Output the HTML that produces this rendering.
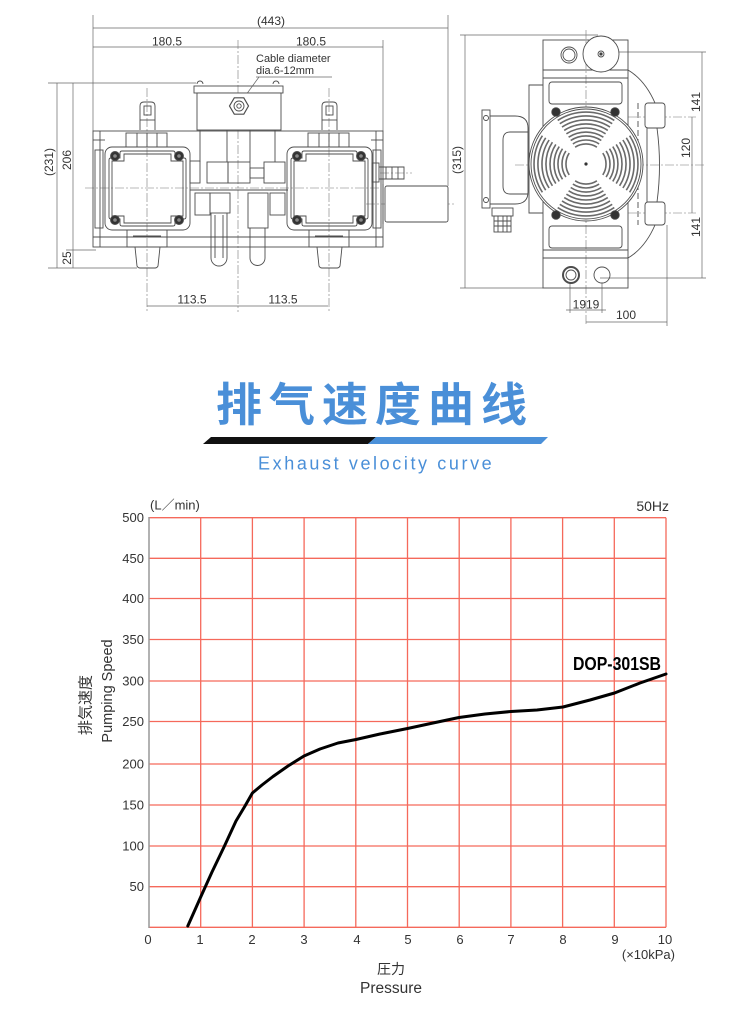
<!DOCTYPE html>
<html>
<head>
<meta charset="utf-8">
<style>
html,body{margin:0;padding:0;background:#fff;}
svg{display:block;}
text{font-family:"Liberation Sans","Noto Sans CJK SC",sans-serif;}
</style>
</head>
<body>
<svg width="750" height="1024" viewBox="0 0 750 1024" xmlns="http://www.w3.org/2000/svg">
<rect width="750" height="1024" fill="#fff"/>

<!-- ================= LEFT VIEW ================= -->
<defs>
<g id="head" fill="none" stroke="#4d4d4d" stroke-width="0.9">
  <rect x="105" y="147" width="85" height="83" rx="7"/>
  <path d="M122,151 H173 Q175,151 175,153 V158 H184 Q186,158 186,160 V217 Q186,219 184,219 H175 V224 Q175,226 173,226 H122 Q120,226 120,224 V219 H111 Q109,219 109,217 V160 Q109,158 111,158 H120 V153 Q120,151 122,151 Z"/>
  <path d="M124,154 H171 V161 H183 V216 H171 V223 H124 V216 H112 V161 H124 Z"/>
  <rect x="126" y="133" width="41" height="14"/>
  <path d="M137,133 V147 M147,133 V147 M157,133 V147"/>
  <path d="M140,130 V106 Q140,102 144,102 H151 Q155,102 155,106 V130"/>
  <rect x="144" y="106" width="7" height="9"/>
  <line x1="140" y1="120" x2="155" y2="120"/>
  <rect x="127" y="230" width="40" height="17"/>
  <path d="M133,236 H161"/>
  <path d="M135,247 L137,266 Q138,268 140,268 H155 Q157,268 158,266 L160,247"/>
  <circle cx="115" cy="156" r="4.5" fill="#333"/>
  <circle cx="179" cy="156" r="4.5" fill="#333"/>
  <circle cx="115" cy="220" r="4.5" fill="#333"/>
  <circle cx="179" cy="220" r="4.5" fill="#333"/>
  <circle cx="115" cy="156" r="1.8" fill="#888" stroke="none"/>
  <circle cx="179" cy="156" r="1.8" fill="#888" stroke="none"/>
  <circle cx="115" cy="220" r="1.8" fill="#888" stroke="none"/>
  <circle cx="179" cy="220" r="1.8" fill="#888" stroke="none"/>
</g>
<g id="sec" fill="none" stroke="#6a6a6a" stroke-width="1.6">
  <path d="M575.1,147.2 A20,20 0 0 1 596.9,147.2"/>
  <path d="M572.9,143.9 A24,24 0 0 1 599.1,143.9"/>
  <path d="M570.7,140.5 A28,28 0 0 1 601.3,140.5"/>
  <path d="M568.6,137.2 A32,32 0 0 1 603.4,137.2"/>
  <path d="M566.4,133.8 A36,36 0 0 1 605.6,133.8"/>
  <path d="M564.2,130.4 A40,40 0 0 1 607.8,130.4"/>
  <path d="M562,127.1 A44,44 0 0 1 610,127.1"/>
  <path d="M559.8,123.7 A48,48 0 0 1 612.2,123.7"/>
  <path d="M557.7,120.4 A52,52 0 0 1 614.3,120.4"/>
</g>
</defs>

<!-- dimension lines left view -->
<g stroke="#666" stroke-width="0.7" fill="none">
  <line x1="93" y1="15" x2="93" y2="131"/>
  <line x1="448" y1="15" x2="448" y2="186"/>
  <line x1="93" y1="28" x2="448" y2="28"/>
  <line x1="93" y1="47" x2="383" y2="47"/>
  <line x1="383" y1="40" x2="383" y2="131"/>
  <line x1="57" y1="83" x2="57" y2="268"/>
  <line x1="73" y1="83" x2="73" y2="268"/>
  <line x1="48" y1="83" x2="196" y2="83"/>
  <line x1="66" y1="250" x2="96" y2="250"/>
  <line x1="48" y1="268" x2="137" y2="268"/>
  <line x1="147" y1="306" x2="328" y2="306"/>
  <line x1="256" y1="77" x2="332" y2="77"/>
  <line x1="259" y1="77" x2="243" y2="99"/>
</g>
<!-- centerlines -->
<g stroke="#777" stroke-width="0.6" fill="none" stroke-dasharray="9,2,2,2">
  <line x1="238" y1="40" x2="238" y2="312"/>
  <line x1="147" y1="88" x2="147" y2="312"/>
  <line x1="329" y1="88" x2="329" y2="312"/>
  <line x1="85" y1="188" x2="380" y2="188"/>
  <line x1="366" y1="204" x2="455" y2="204"/>
  <line x1="380" y1="173" x2="412" y2="173"/>
</g>

<g fill="none" stroke="#4d4d4d" stroke-width="0.9">
  <!-- body -->
  <rect x="93" y="131" width="290" height="116"/>
  <line x1="100" y1="131" x2="100" y2="247"/>
  <line x1="376" y1="131" x2="376" y2="247"/>
  <line x1="93" y1="237" x2="383" y2="237"/>
  <line x1="93" y1="140" x2="105" y2="140"/>
  <line x1="371" y1="140" x2="383" y2="140"/>
  <rect x="95" y="150" width="8" height="78"/>
  <rect x="373" y="150" width="8" height="78"/>
  <!-- junction box -->
  <rect x="194" y="86" width="89" height="7"/>
  <path d="M197,84 a3,3 0 0 1 6,0 M273,84 a3,3 0 0 1 6,0"/>
  <rect x="197" y="93" width="84" height="37" fill="#fff"/>
  <polygon points="248.5,106 243.8,114.2 234.3,114.2 229.5,106 234.3,97.8 243.8,97.8" stroke-width="1.2"/>
  <circle cx="239" cy="106" r="5"/>
  <circle cx="239" cy="106" r="2.2"/>
  <path d="M200,130 V162 M227,130 V162 M250,130 V162 M275,130 V162"/>
  <!-- piping -->
  <rect x="190" y="161" width="10" height="22"/>
  <rect x="207" y="162" width="21" height="21"/>
  <rect x="228" y="162" width="22" height="21"/>
  <rect x="250" y="168" width="14" height="10"/>
  <rect x="264" y="162" width="21" height="21"/>
  <line x1="190" y1="190" x2="288" y2="190"/>
  <rect x="195" y="193" width="15" height="22"/>
  <rect x="210" y="193" width="20" height="20"/>
  <rect x="248" y="193" width="20" height="35"/>
  <rect x="270" y="193" width="15" height="22"/>
  <path d="M211,213 V258 a8,8 0 0 0 16,0 V213"/>
  <path d="M215,215 V258 M223,215 V258"/>
  <path d="M250,228 V258 a7.5,7.5 0 0 0 15,0 V228"/>
  <!-- motor + barb -->
  <rect x="385" y="186" width="63" height="36" rx="2" fill="#fff"/>
  <line x1="383" y1="184" x2="383" y2="224"/>
  <rect x="372" y="163" width="7" height="19"/>
  <path d="M379,167 H404 V179 H379 M386,167 V179 M392,167 V179 M398,167 V179"/>
</g>
<use href="#head"/>
<use href="#head" transform="translate(182,0)"/>

<g font-size="12" fill="#333">
  <text x="271" y="25" text-anchor="middle">(443)</text>
  <text x="167" y="45.5" text-anchor="middle">180.5</text>
  <text x="311" y="45.5" text-anchor="middle">180.5</text>
  <text x="256" y="62" font-size="11">Cable diameter</text>
  <text x="256" y="74" font-size="11">dia.6-12mm</text>
  <text x="192" y="303.5" text-anchor="middle">113.5</text>
  <text x="283" y="303.5" text-anchor="middle">113.5</text>
  <text transform="rotate(-90 49 162)" x="49" y="162" text-anchor="middle" dominant-baseline="central">(231)</text>
  <text transform="rotate(-90 67 160)" x="67" y="160" text-anchor="middle" dominant-baseline="central">206</text>
  <text transform="rotate(-90 67 258)" x="67" y="258" text-anchor="middle" dominant-baseline="central">25</text>
</g>

<!-- ================= RIGHT VIEW ================= -->
<g stroke="#666" stroke-width="0.7" fill="none">
  <line x1="465" y1="35" x2="465" y2="288"/>
  <line x1="460" y1="35" x2="598" y2="35"/>
  <line x1="460" y1="288" x2="543" y2="288"/>
  <line x1="702" y1="52" x2="702" y2="278"/>
  <line x1="600" y1="52" x2="706" y2="52"/>
  <line x1="600" y1="278" x2="706" y2="278"/>
  <line x1="692" y1="117" x2="692" y2="213"/>
  <line x1="570" y1="283" x2="570" y2="313"/>
  <line x1="602" y1="283" x2="602" y2="313"/>
  <line x1="566" y1="310" x2="606" y2="310"/>
  <line x1="667" y1="225" x2="667" y2="326"/>
  <line x1="586" y1="322" x2="667" y2="322"/>
</g>
<g stroke="#777" stroke-width="0.6" fill="none" stroke-dasharray="9,2,2,2">
  <line x1="586" y1="30" x2="586" y2="326"/>
  <line x1="515" y1="165" x2="706" y2="165"/>
  <line x1="628" y1="117" x2="696" y2="117"/>
  <line x1="628" y1="213" x2="696" y2="213"/>
</g>
<g fill="none" stroke="#4d4d4d" stroke-width="0.9">
  <rect x="543" y="40" width="85" height="30"/>
  <circle cx="569" cy="55" r="8"/>
  <circle cx="569" cy="55" r="6"/>
  <path d="M543,70 H628 V258 H543 Z"/>
  <path d="M543,78 H628 M543,250 H628"/>
  <rect x="549" y="82" width="73" height="22" rx="3"/>
  <rect x="549" y="226" width="73" height="22" rx="3"/>
  <path d="M543,85 H529 V213 H543"/>
  <!-- right side -->
  <path d="M628,70 Q645,80 655,103"/>
  <path d="M628,258 Q645,248 655,225"/>
  <path d="M647,103 V225"/>
  <path d="M657,128 Q662,165 657,202"/>
  <rect x="645" y="103" width="20" height="25" rx="3" fill="#fff"/>
  <rect x="645" y="202" width="20" height="23" rx="3" fill="#fff"/>
  <line x1="638" y1="103" x2="638" y2="225" stroke-dasharray="6,3"/>
  <!-- fan guard -->
  <circle cx="586" cy="164" r="57" fill="#fff"/>
  <circle cx="586" cy="164" r="55"/>
  <!-- capacitor -->
  <circle cx="601" cy="54" r="18" fill="#fff"/>
  <circle cx="601" cy="54" r="3"/>
  <circle cx="601" cy="54" r="1.2" fill="#333"/>
  <!-- bottom block -->
  <rect x="543" y="258" width="85" height="30"/>
  <circle cx="571" cy="275" r="8" stroke-width="2"/>
  <circle cx="571" cy="275" r="5"/>
  <circle cx="602" cy="275" r="8"/>
  <!-- terminal box -->
  <rect x="482" y="110" width="8" height="98"/>
  <circle cx="486" cy="118" r="2.5"/>
  <circle cx="486" cy="200" r="2.5"/>
  <path d="M490,116 H515 Q528,116 528,128 V192 Q528,204 515,204 H490"/>
  <path d="M528,132 H510 Q503,132 503,140 V186 Q503,194 510,194 H528"/>
  <rect x="492" y="208" width="21" height="8"/>
  <rect x="494" y="216" width="17" height="16"/>
  <path d="M494,221 H511 M494,226 H511 M498,216 V232 M503,216 V232 M507,216 V232"/>
</g>
<use href="#sec"/>
<use href="#sec" transform="rotate(90 586 164)"/>
<use href="#sec" transform="rotate(180 586 164)"/>
<use href="#sec" transform="rotate(270 586 164)"/>
<circle cx="586" cy="164" r="1.6" fill="#333"/>
<g fill="#333" stroke="#4d4d4d" stroke-width="0.8">
  <circle cx="556" cy="112" r="4.3"/>
  <circle cx="615" cy="112" r="4.3"/>
  <circle cx="556" cy="215" r="4.3"/>
  <circle cx="615" cy="215" r="4.3"/>
</g>
<g font-size="12" fill="#333">
  <text transform="rotate(-90 457 160)" x="457" y="160" text-anchor="middle" dominant-baseline="central">(315)</text>
  <text transform="rotate(-90 696 102)" x="696" y="102" text-anchor="middle" dominant-baseline="central">141</text>
  <text transform="rotate(-90 686 148)" x="686" y="148" text-anchor="middle" dominant-baseline="central">120</text>
  <text transform="rotate(-90 696 227)" x="696" y="227" text-anchor="middle" dominant-baseline="central">141</text>
  <text x="586" y="308.5" text-anchor="middle">1919</text>
  <text x="626" y="319" text-anchor="middle">100</text>
</g>

<!-- ================= TITLE ================= -->
<text x="216" y="421" font-size="46" font-weight="bold" fill="#4a8fd8" letter-spacing="7" style="font-family:'Noto Sans CJK SC',sans-serif;">排气速度曲线</text>
<polygon points="203,444 211,437 376,437 368,444" fill="#111"/>
<polygon points="368,444 376,437 548,437 541,444" fill="#4a90d9"/>
<text x="258" y="469.5" font-size="18" fill="#4a8fd8" letter-spacing="2.6">Exhaust velocity curve</text>

<!-- ================= CHART ================= -->
<g stroke="#f5695b" stroke-width="1.3" fill="none">
  <line x1="149" y1="517.7" x2="666" y2="517.7"/>
  <line x1="149" y1="558.3" x2="666" y2="558.3"/>
  <line x1="149" y1="598.5" x2="666" y2="598.5"/>
  <line x1="149" y1="639.5" x2="666" y2="639.5"/>
  <line x1="149" y1="681" x2="666" y2="681"/>
  <line x1="149" y1="721.5" x2="666" y2="721.5"/>
  <line x1="149" y1="764" x2="666" y2="764"/>
  <line x1="149" y1="805" x2="666" y2="805"/>
  <line x1="149" y1="846" x2="666" y2="846"/>
  <line x1="149" y1="886.7" x2="666" y2="886.7"/>
  <line x1="149" y1="927.3" x2="666" y2="927.3"/>
  <line x1="200.7" y1="517.7" x2="200.7" y2="927.3"/>
  <line x1="252.4" y1="517.7" x2="252.4" y2="927.3"/>
  <line x1="304.1" y1="517.7" x2="304.1" y2="927.3"/>
  <line x1="355.8" y1="517.7" x2="355.8" y2="927.3"/>
  <line x1="407.5" y1="517.7" x2="407.5" y2="927.3"/>
  <line x1="459.2" y1="517.7" x2="459.2" y2="927.3"/>
  <line x1="510.9" y1="517.7" x2="510.9" y2="927.3"/>
  <line x1="562.6" y1="517.7" x2="562.6" y2="927.3"/>
  <line x1="614.3" y1="517.7" x2="614.3" y2="927.3"/>
  <line x1="666" y1="517.7" x2="666" y2="927.3"/>
</g>
<line x1="149" y1="517" x2="149" y2="928" stroke="#999" stroke-width="1.5"/>

<polyline fill="none" stroke="#000" stroke-width="3" stroke-linejoin="round" stroke-linecap="round"
 points="187.8,926 200.7,897 212,872 224,847 236,821 245,806 252.4,793 262,785 273,776.5 288,766 304,756 320,749 338,743 356,739.5 380,734 407.5,728.5 433,723 459,717.5 485,714 511,711.5 537,710 563,707 590,700 614.5,693 640,683 666,674"/>

<text x="573" y="670" font-size="18.5" font-weight="bold" fill="#000" textLength="88" lengthAdjust="spacingAndGlyphs">DOP-301SB</text>

<g font-size="13" fill="#333">
  <text x="150" y="509.5">(L<tspan style="font-family:'Noto Sans CJK JP',sans-serif;">／</tspan>min)</text>
  <text x="669" y="511" font-size="14" text-anchor="end">50Hz</text>
  <g text-anchor="end">
    <text x="144" y="522.2">500</text>
    <text x="144" y="562.8">450</text>
    <text x="144" y="603">400</text>
    <text x="144" y="644">350</text>
    <text x="144" y="685.5">300</text>
    <text x="144" y="726">250</text>
    <text x="144" y="768.5">200</text>
    <text x="144" y="809.5">150</text>
    <text x="144" y="850.5">100</text>
    <text x="144" y="891.2">50</text>
  </g>
  <g text-anchor="middle">
    <text x="148" y="944">0</text>
    <text x="200" y="944">1</text>
    <text x="252" y="944">2</text>
    <text x="304" y="944">3</text>
    <text x="357" y="944">4</text>
    <text x="408" y="944">5</text>
    <text x="460" y="944">6</text>
    <text x="511" y="944">7</text>
    <text x="563" y="944">8</text>
    <text x="615" y="944">9</text>
    <text x="665" y="944">10</text>
  </g>
  <text x="675" y="959" text-anchor="end">(×10kPa)</text>
  <text x="391" y="974" font-size="14" text-anchor="middle" style="font-family:'Noto Sans CJK JP',sans-serif;">圧力</text>
  <text x="391" y="993" font-size="15.5" text-anchor="middle">Pressure</text>
  <text transform="rotate(-90 108 691)" x="108" y="691" font-size="14.5" text-anchor="middle" dominant-baseline="central">Pumping Speed</text>
  <text transform="rotate(-90 85 705)" x="85" y="705" font-size="15" text-anchor="middle" dominant-baseline="central" style="font-family:'Noto Sans CJK JP',sans-serif;">排気速度</text>
</g>
</svg>
</body>
</html>
